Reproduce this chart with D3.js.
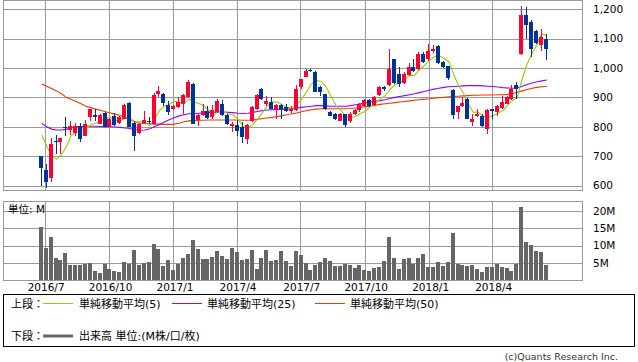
<!DOCTYPE html>
<html><head><meta charset="utf-8">
<script src="https://cdn.jsdelivr.net/npm/d3@7"></script>
<style>body{margin:0;background:#fff}svg{display:block}</style>
</head><body>
<svg id="c" width="638" height="362"></svg>
<script>
// ---- data (weekly bars) ----
const firstWeek = "2016-06-27";
const opens  = [700,652,625,752,749,800,789,780,802,769,832,840,811,848,800,836,814,828,882,814,780,814,820,809,911,913,874,859,868,879,900,945,823,840,853,834,851,877,840,802,806,800,757,820,859,930,877,885,860,874,866,854,857,934,970,993,987,936,911,851,843,820,843,820,845,857,870,891,874,908,936,942,1029,981,950,976,1002,995,1049,1029,1058,1074,1021,1006,925,851,870,894,817,836,837,794,859,851,863,879,893,942,1049,1180,1157,1126,1078,1100];
const highs  = [702,673,761,772,763,834,820,812,814,823,862,862,843,851,830,848,835,876,884,820,813,853,834,916,938,916,888,873,902,911,959,950,843,877,869,874,896,891,843,815,823,815,808,870,911,932,905,902,876,878,879,870,942,963,998,998,990,940,913,853,846,846,845,849,860,880,894,895,903,938,940,1063,1032,1004,987,1018,1029,1055,1055,1081,1078,1077,1024,1008,927,872,900,899,845,859,842,861,862,874,904,904,942,953,1210,1208,1163,1128,1134,1117];
const lows   = [600,593,612,707,707,768,772,767,749,768,820,820,808,798,798,803,810,826,798,718,777,811,809,806,900,870,840,856,865,845,897,808,802,837,825,828,848,835,806,783,768,746,741,815,856,890,870,860,828,828,850,848,854,930,968,985,917,905,856,835,822,818,800,814,840,850,866,866,871,905,922,938,945,936,945,972,985,992,1018,1025,1052,1014,999,960,825,825,866,826,802,832,799,777,825,835,860,876,890,893,1045,1100,1038,1080,1058,1027];
const closes = [661,612,741,750,762,795,802,802,759,811,860,832,840,800,828,806,832,874,800,768,811,823,817,908,922,882,851,870,885,908,953,811,840,853,830,857,888,840,809,811,786,764,806,868,908,893,887,862,874,859,854,862,927,961,990,988,919,919,859,837,826,843,806,845,856,877,891,870,900,936,927,995,950,947,979,1002,990,1049,1021,1057,1066,1018,1002,965,840,870,880,828,826,845,802,857,854,870,885,900,930,927,1180,1146,1063,1086,1106,1064];
const volumes = [15.3,9.4,12.4,6.4,5.8,7.8,4.4,4.4,4.4,4.8,5.0,2.7,2.1,4.7,3.3,2.7,2.4,5.3,4.8,8.7,4.4,5.0,5.3,10.4,9.0,4.1,5.8,3.0,4.8,6.4,7.6,11.6,9.0,6.1,6.1,6.7,8.4,7.0,6.1,9.3,8.1,5.8,6.1,8.7,3.3,6.4,8.7,5.6,5.8,8.4,5.6,4.1,8.4,7.3,5.0,3.0,4.4,5.3,6.4,5.6,4.1,4.1,4.7,4.4,3.5,4.4,3.0,2.7,3.5,3.8,5.6,12.4,6.4,3.3,6.1,6.4,4.7,6.4,7.6,3.8,3.8,5.3,4.1,5.3,13.6,4.7,4.4,4.1,4.4,3.3,2.4,3.8,3.8,4.7,3.8,3.5,2.7,4.7,21.1,11.0,10.1,8.4,8.1,4.4];
const ma5  = [772,735,700,690,705,732,770,782,784,794,807,813,820,829,832,821,821,828,828,816,817,815,804,825,856,870,876,887,884,879,893,885,879,873,857,838,853,853,844,841,827,802,795,807,826,848,872,884,885,875,867,862,875,893,919,946,957,955,935,904,872,857,834,831,835,845,853,868,879,895,905,926,942,951,960,975,974,993,1008,1024,1037,1042,1033,1022,978,940,915,877,849,850,836,832,837,846,854,873,888,902,964,1015,1049,1080,1116,1109];
const ma25 = [811,800,792,789,789,792,796,800,801,802,802,802,801,800,800,799,798,796,794,790,788,789,793,800,808,816,824,831,837,841,844,845,846,847,848,849,850,850,849,848,846,845,846,849,852,855,857,858,859,859,860,862,864,866,868,870,872,872,871,870,870,870,870,872,875,878,881,884,887,889,892,896,900,903,906,909,912,916,920,924,928,931,934,936,937,938,939,940,940,940,939,938,937,935,933,932,931,932,938,944,949,953,956,959];
const ma50 = [945,938,930,922,912,900,893,886,878,870,865,860,856,851,847,843,838,832,825,817,812,811,810,809,809,808,808,809,812,817,820,821,822,822,823,823,823,823,823,823,823,822,822,823,825,828,830,832,835,838,841,844,847,851,855,858,860,861,861,861,861,861,861,862,864,866,868,870,873,876,878,880,882,884,886,888,890,892,894,895,897,899,900,902,903,904,905,906,907,907,908,908,908,909,909,910,913,917,922,927,931,934,936,938];
const xTickLabels = ["2016/7","2016/10","2017/1","2017/4","2017/7","2017/10","2018/1","2018/4"];
const priceTicks = [600,700,800,900,1000,1100,1200];
const volTicks = [5,10,15,20];

// ---- styles ----
const UP = "#ff0033", DOWN = "#003399", GRID = "#999999";
const C5 = "#99cc00", C25 = "#9900ff", C50 = "#ff3300", VOL = "#666666";
const FONT = "'DejaVu Sans', 'Noto Sans CJK JP', sans-serif";

const svg = d3.select("#c");
const L = 3.5, R = 582.5;
const mainTop = 0.5, mainBottom = 190.5;
const volTop = 201.5, volBottom = 280.5;

const parse = d3.timeParse("%Y-%m-%d");
const start = parse(firstWeek);
const dates = opens.map((_, i) => d3.timeWeek.offset(start, i));
const tickDates = xTickLabels.map(d3.timeParse("%Y/%m"));

const x = d3.scaleTime().domain([dates[0], dates[dates.length - 1]]).range([41.8, 546.8]);
const y = d3.scaleLinear().domain([585, 1231]).range([190, 0]);
const yv = d3.scaleLinear().domain([0, 22.8]).range([280.3, 201]);

const bars = opens.map((o, i) => ({d: dates[i], o, h: highs[i], l: lows[i], c: closes[i], v: volumes[i],
  m5: ma5[i], m25: ma25[i], m50: ma50[i]}));

// ---- grids ----
function grid(top, bottom, hvals, yscale) {
  const g = svg.append("g").attr("stroke", GRID).attr("stroke-width", 1).attr("fill", "none");
  hvals.forEach(v => {
    const yy = Math.round(yscale(v)) + 0.5;
    g.append("line").attr("x1", L).attr("x2", R).attr("y1", yy).attr("y2", yy);
  });
  tickDates.forEach(t => {
    const xx = Math.round(x(t)) + 0.5;
    g.append("line").attr("x1", xx).attr("x2", xx).attr("y1", top).attr("y2", bottom);
  });
  g.append("rect").attr("x", L).attr("y", top).attr("width", R - L).attr("height", bottom - top);
}
grid(mainTop, mainBottom, priceTicks, y);
grid(volTop, volBottom, volTicks, yv);

// clip
svg.append("clipPath").attr("id", "mainclip").append("rect")
  .attr("x", L).attr("y", mainTop).attr("width", R - L).attr("height", mainBottom - mainTop);

// ---- moving averages ----
const gm = svg.append("g").attr("clip-path", "url(#mainclip)");
[["m50", C50], ["m25", C25], ["m5", C5]].forEach(([k, col]) => {
  gm.append("path").datum(bars)
    .attr("fill", "none").attr("stroke", col).attr("stroke-width", 1.1)
    .attr("d", d3.line().x(d => x(d.d)).y(d => y(d[k])));
});

// ---- candles ----
const gc = svg.append("g").attr("clip-path", "url(#mainclip)");
bars.forEach(b => {
  const cx = Math.round(x(b.d));
  const col = b.c >= b.o ? UP : DOWN;
  const yh = Math.round(y(b.h)), yl = Math.round(y(b.l));
  gc.append("rect").attr("x", cx - 1).attr("width", 1).attr("y", yh).attr("height", Math.max(1, yl - yh)).attr("fill", col);
  const yt = Math.round(y(Math.max(b.o, b.c))), yb = Math.round(y(Math.min(b.o, b.c)));
  gc.append("rect").attr("x", cx - 3).attr("width", 4).attr("y", yt).attr("height", Math.max(1, yb - yt)).attr("fill", col);
});

// ---- volume ----
svg.append("g").selectAll("rect").data(bars).join("rect")
  .attr("x", d => Math.round(x(d.d)) - 3).attr("width", 4)
  .attr("y", d => Math.round(yv(d.v))).attr("height", d => Math.round(yv(0)) - Math.round(yv(d.v)))
  .attr("fill", VOL);

// ---- axis labels ----
const ty = svg.append("g").attr("font-family", FONT).attr("font-size", 10.5).attr("fill", "#000");
priceTicks.forEach(v => {
  ty.append("text").attr("x", 593).attr("y", y(v)).attr("dy", "0.36em").text(d3.format(",")(v));
});
volTicks.forEach(v => {
  ty.append("text").attr("x", 593).attr("y", yv(v)).attr("dy", "0.36em").text(v + "M");
});
tickDates.forEach((t, i) => {
  ty.append("text").attr("x", x(t) + 1.5).attr("y", 291).attr("text-anchor", "middle").text(xTickLabels[i]);
});
svg.append("text").attr("x", 8).attr("y", 213).attr("font-family", FONT).attr("font-size", 10.5).text("単位: M");

// ---- legend ----
svg.append("rect").attr("x", 3.5).attr("y", 294.5).attr("width", 631).attr("height", 52)
  .attr("fill", "none").attr("stroke", "#000");
const lg = svg.append("g").attr("font-family", FONT).attr("font-size", 11);
lg.append("text").attr("x", 11).attr("y", 307.5).text("上段：");
[[43, 79, C5, "単純移動平均(5)"], [172, 207, C25, "単純移動平均(25)"], [315, 350, C50, "単純移動平均(50)"]].forEach(([lx, tx, col, s]) => {
  lg.append("line").attr("x1", lx).attr("x2", lx + 30).attr("y1", 303.5).attr("y2", 303.5).attr("stroke", col).attr("stroke-width", 1);
  lg.append("text").attr("x", tx).attr("y", 307.5).text(s);
});
lg.append("text").attr("x", 11).attr("y", 340).text("下段：");
lg.append("line").attr("x1", 43).attr("x2", 73).attr("y1", 336).attr("y2", 336).attr("stroke", VOL).attr("stroke-width", 3);
lg.append("text").attr("x", 79).attr("y", 340).text("出来高 単位:(M株/口/枚)");

svg.append("text").attr("x", 618).attr("y", 360).attr("text-anchor", "end")
  .attr("font-family", FONT).attr("font-size", 9.5).attr("fill", "#333").text("(c)Quants Research Inc.");
</script>
</body></html>
